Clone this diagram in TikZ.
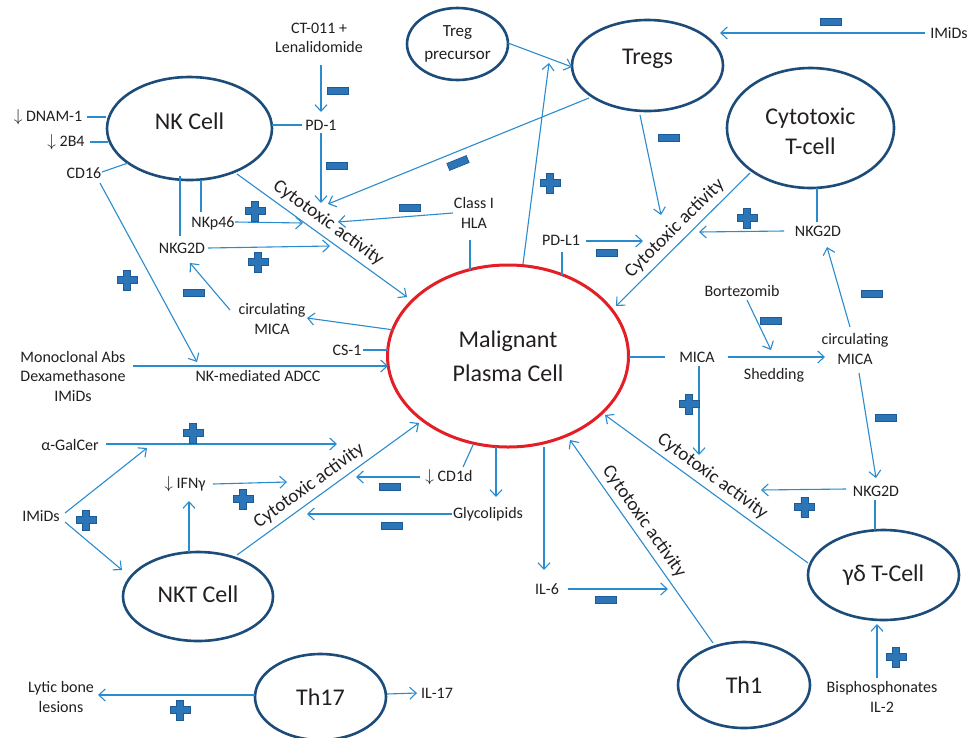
\documentclass[tikz,border=0pt]{standalone}
\usepackage{fontspec}
\setmainfont{Carlito}
\usetikzlibrary{shapes.geometric,arrows.meta}
\definecolor{cellblue}{RGB}{28,76,122}
\definecolor{linblue}{RGB}{42,140,206}
\definecolor{pcred}{RGB}{228,30,38}
\definecolor{symfill}{RGB}{44,118,184}
\definecolor{symdraw}{RGB}{30,90,150}
\definecolor{txt}{RGB}{35,31,32}
\newcommand{\liftup}[2]{\raisebox{0pt}[\height][\dimexpr\depth+#1\relax]{#2}}
\tikzset{
  cell/.style={ellipse,draw=cellblue,line width=2.6pt,inner sep=0pt,text=txt,
    font=\fontsize{24}{30}\selectfont,align=center},
  lbl/.style={text=txt,font=\fontsize{16}{19.5}\selectfont,align=center,inner sep=1pt},
  act/.style={text=txt,font=\fontsize{19}{22}\selectfont,sloped,above=4pt,inner sep=1pt},
  conn/.style={draw=linblue,line width=1.1pt},
  arr/.style={conn,-{Straight Barb[length=6.5pt,width=12pt]}},
  minussym/.style={rectangle,fill=symfill,draw=symdraw,line width=0.7pt,
    minimum width=21pt,minimum height=7.5pt,inner sep=0pt},
  plussym/.pic={\filldraw[fill=symfill,draw=symdraw,line width=0.7pt]
    (-3.6,-10)--(3.6,-10)--(3.6,-3.6)--(10,-3.6)--(10,3.6)--(3.6,3.6)--(3.6,10)
    --(-3.6,10)--(-3.6,3.6)--(-10,3.6)--(-10,-3.6)--(-3.6,-3.6)--cycle;}
}
\begin{document}
\begin{tikzpicture}[x=1pt,y=-1pt]
\fill[white] (0,0) rectangle (969,737);
\useasboundingbox (0,0) rectangle (969,737);

% ---------- cells ----------
\node[cell,minimum width=165pt,minimum height=103pt] (nk) at (189.5,128.5) {\liftup{14pt}{NK Cell}};
\node[cell,minimum width=101pt,minimum height=72pt,font=\fontsize{17}{23}\selectfont] (tp) at (457.5,44) {Treg\\precursor};
\node[cell,minimum width=151pt,minimum height=91pt] (tregs) at (647.5,65.5) {\liftup{14pt}{Tregs}};
\node[cell,minimum width=167pt,minimum height=120pt] (ctl) at (810.5,128) {\raisebox{0pt}[\dimexpr\height+6pt\relax][\depth]{Cytotoxic}\\T-cell};
\node[cell,draw=pcred,line width=3pt,minimum width=241pt,minimum height=182pt,
      font=\fontsize{24}{34}\selectfont] (pc) at (508,356) {Malignant\\Plasma Cell};
\node[cell,minimum width=150pt,minimum height=89pt] (nkt) at (198,596.5) {\liftup{5pt}{NKT Cell}};
\node[cell,minimum width=131pt,minimum height=86pt] (th17) at (320.5,697) {Th17};
\node[cell,minimum width=132pt,minimum height=86pt] (th1) at (744,685) {Th1};
\node[cell,minimum width=151pt,minimum height=90pt] (gd) at (883.5,575) {γδ T-Cell};

% ---------- labels ----------
\node[lbl] (ct) at (319,38) {CT-011 +\\Lenalidomide};
\node[lbl] (pd1) at (321,125) {PD-1};
\node[lbl] (dnam) at (48,117) {$\downarrow$ DNAM-1};
\node[lbl] (b4) at (66,142) {$\downarrow$ 2B4};
\node[lbl] (cd16) at (84,173) {CD16};
\node[lbl] (nkp46) at (213,223) {NKp46};
\node[lbl] (nkg2da) at (182,248) {NKG2D};
\node[lbl] (cmica1) at (272,319) {circulating\\MICA};
\node[lbl] (cs1) at (347,350) {CS-1};
\node[lbl] (mab) at (73,376) {Monoclonal Abs\\Dexamethasone\\IMiDs};
\node[lbl] (adcc) at (258,376) {NK-mediated ADCC};
\node[lbl] (hla) at (474,213) {Class I\\HLA};
\node[lbl] (pdl1) at (561,240) {PD-L1};
\node[lbl] (imidsr) at (949,33) {IMiDs};
\node[lbl] (nkg2db) at (818,231) {NKG2D};
\node[lbl] (bort) at (742,291) {Bortezomib};
\node[lbl] (mica) at (697,357) {MICA};
\node[lbl] (shed) at (774,375) {Shedding};
\node[lbl] (cmica2) at (855,349) {circulating\\MICA};
\node[lbl] (nkg2dc) at (876,491) {NKG2D};
\node[lbl] (bis) at (882,697) {Bisphosphonates\\IL-2};
\node[lbl] (il6) at (547,589) {IL-6};
\node[lbl] (glyc) at (488,514) {Glycolipids};
\node[lbl] (cd1d) at (449,477) {$\downarrow$ CD1d};
\node[lbl] (agal) at (70,445) {α-GalCer};
\node[lbl] (imidsl) at (41,516) {IMiDs};
\node[lbl] (ifn) at (185,484) {$\downarrow$ IFNγ};
\node[lbl] (lytic) at (61,697) {Lytic bone\\lesions};
\node[lbl] (il17) at (437,693) {IL-17};

% ---------- connectors: NK cell ----------
\draw[arr] (321,65) -- (321,112);
\draw[conn] (272,125) -- (302,125);
\draw[arr] (321,133) -- (321,203);
\draw[conn] (87,117) -- (106,117);
\draw[conn] (90,142) -- (108,142);
\draw[conn] (102,172) -- (128,163);
\draw[arr] (100,183) -- (197,362);
\draw[conn] (180,176) -- (180,236);
\draw[conn] (201,180) -- (201,212);
\draw[arr] (235,222) -- (303,223);
\draw[arr] (208,248) -- (330,246);
\draw[arr] (237,174) -- node[act,pos=0.49] {Cytotoxic activity} (407,297);
\draw[arr] (589,98) -- (328,204);
\draw[arr] (453,213) -- (338,222);
\draw[conn] (470,240) -- (470,270);
\draw[arr] (230,310) -- (190,263);
\draw[arr] (394,330) -- (307,318);
\draw[conn] (363,350) -- (388,350);
\draw[arr] (133,366) -- (388,366);

% ---------- Tregs / CTL ----------
\draw[arr] (523,264) -- (549,63);
\draw[arr] (508,43) -- (572,67);
\draw[arr] (925,33) -- (720,33);
\draw[arr] (640,115) -- (661,215);
\draw[conn] (562,252) -- (562,275);
\draw[arr] (586,241) -- (643,241);
\draw[arr] (750,173) -- node[act,pos=0.49] {Cytotoxic activity} (616,306);
\draw[conn] (817,188) -- (817,222);
\draw[arr] (784,231) -- (699,232);

% ---------- MICA / gamma-delta ----------
\draw[arr] (850,327) -- (827,247);
\draw[arr] (747,300) -- (771,350);
\draw[conn] (629,357) -- (665,357);
\draw[arr] (728,357) -- (825,357);
\draw[arr] (699,366) -- (699,455);
\draw[arr] (859,373) -- (876,478);
\draw[arr] (846,489) -- (761,490);
\draw[conn] (875,500) -- (875,530);
\draw[arr] (808,563) -- node[act,pos=0.51] {Cytotoxic activity} (605,415);
\draw[arr] (877,678) -- (877,624);

% ---------- Th1 / IL-6 / glycolipids ----------
\draw[arr] (713,643) -- node[act,pos=0.56] {Cytotoxic activity} (570,440);
\draw[arr] (568,589) -- (668,589);
\draw[arr] (544,447) -- (544,570);
\draw[arr] (496,447) -- (496,497);
\draw[conn] (463,467) -- (473,445);
\draw[arr] (420,477) -- (356,477);
\draw[arr] (452,514) -- (307,514);

% ---------- NKT ----------
\draw[arr] (237,555) -- node[act,pos=0.44] {Cytotoxic activity} (419,423);
\draw[arr] (106,444) -- (337,444);
\draw[arr] (65,513) -- (147,448);
\draw[arr] (65,522) -- (122,570);
\draw[arr] (213,484) -- (287,482);
\draw[arr] (189,552) -- (189,501);

% ---------- Th17 ----------
\draw[arr] (255,695) -- (98,695);
\draw[arr] (387,694) -- (417,693);

% ---------- plus signs ----------
\pic at (255,211) {plussym};
\pic at (258,262) {plussym};
\pic at (127,280) {plussym};
\pic at (550,183) {plussym};
\pic at (747,218) {plussym};
\pic at (689,404) {plussym};
\pic at (804.5,507) {plussym};
\pic at (896,657) {plussym};
\pic at (193,433) {plussym};
\pic at (243,499) {plussym};
\pic at (86,520) {plussym};
\pic at (180,710) {plussym};

% ---------- minus signs ----------
\node[minussym] (m1) at (338,91) {};
\node[minussym] (m2) at (337,166) {};
\node[minussym] (m3) at (410,208) {};
\node[minussym,rotate=22] (m4) at (458,163) {};
\node[minussym] (m5) at (194,293) {};
\node[minussym] (m6) at (831,22) {};
\node[minussym] (m7) at (669,138) {};
\node[minussym] (m8) at (607,253) {};
\node[minussym] (m9) at (771,321) {};
\node[minussym] (m10) at (872,294) {};
\node[minussym] (m11) at (886,418) {};
\node[minussym] (m12) at (390,487) {};
\node[minussym] (m13) at (392,526) {};
\node[minussym] (m14) at (606,600) {};
\end{tikzpicture}
\end{document}
